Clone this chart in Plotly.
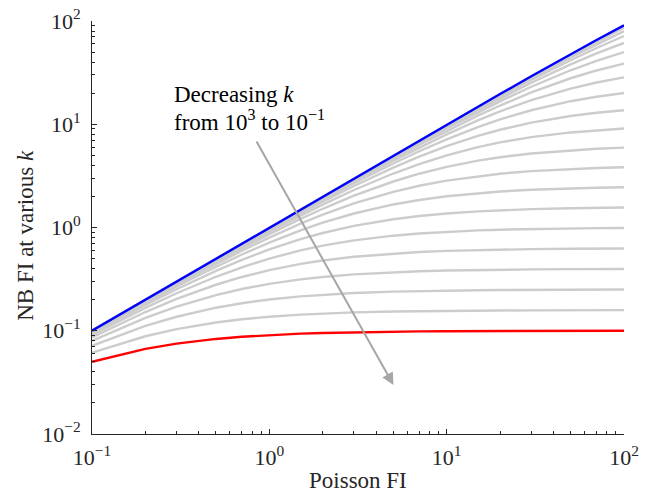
import plotly.graph_objects as go

# ---- data ----
poisson_fi = [0.1, 0.2, 0.3, 0.4, 0.5, 0.7, 1, 1.5, 2, 3, 5, 7, 10, 15, 20, 30, 50, 70, 100]

k_values = [1000, 631, 398, 251, 158, 100, 63.1, 39.8, 25.1, 15.8, 10,
            6.31, 3.98, 2.51, 1.58, 1, 0.631, 0.398, 0.251, 0.158, 0.1]

# k = 10^3 (blue)
nb_fi_k_max = [0.09999, 0.19996, 0.2999, 0.3998, 0.4998, 0.6995, 0.999, 1.4978, 1.996, 2.991,
               4.975, 6.951, 9.901, 14.778, 19.608, 29.126, 47.619, 65.42, 90.909]

# k = 10^-1 (red)
nb_fi_k_min = [0.05, 0.06667, 0.075, 0.08, 0.08333, 0.0875, 0.09091, 0.09375, 0.09524, 0.09677,
               0.09804, 0.09859, 0.09901, 0.09934, 0.0995, 0.09967, 0.0998, 0.09986, 0.0999]

# intermediate k (grey), from 10^2.8 down to 10^-0.8
nb_fi_intermediate = [
    [0.09998, 0.19994, 0.29986, 0.39975, 0.4996, 0.69922, 0.99842, 1.4964, 1.9937, 2.9858,
     4.9607, 6.9232, 9.844, 14.652, 19.386, 28.638, 46.33, 63.01, 86.32],
    [0.09997, 0.1999, 0.29977, 0.3996, 0.49937, 0.69877, 0.99749, 1.4944, 1.99, 2.9776,
     4.938, 6.879, 9.755, 14.455, 19.043, 27.898, 44.42, 59.53, 79.92],
    [0.09996, 0.19984, 0.29964, 0.39936, 0.49901, 0.69806, 0.99603, 1.4911, 1.9842, 2.9646,
     4.9024, 6.8102, 9.6171, 14.155, 18.525, 26.8, 41.70, 54.74, 71.53],
    [0.09994, 0.19975, 0.29943, 0.39899, 0.49843, 0.69692, 0.99373, 1.4859, 1.9751, 2.9443,
     4.847, 6.704, 9.4064, 13.703, 17.759, 25.225, 38.008, 48.554, 61.312],
    [0.0999, 0.1996, 0.2991, 0.3984, 0.4975, 0.6951, 0.9901, 1.4778, 1.9608, 2.9126,
     4.7619, 6.542, 9.0909, 13.043, 16.667, 23.077, 33.333, 41.176, 50.0],
    [0.09984, 0.19937, 0.29858, 0.39748, 0.49607, 0.69231, 0.9844, 1.4652, 1.9386, 2.8638,
     4.6328, 6.3009, 8.632, 12.119, 15.186, 20.332, 27.894, 33.183, 38.685],
    [0.09975, 0.199, 0.29776, 0.39602, 0.4938, 0.6879, 0.9755, 1.4455, 1.9043, 2.7898,
     4.4421, 5.9532, 7.9923, 10.895, 13.312, 17.108, 22.163, 25.377, 28.474],
    [0.0996, 0.19842, 0.29646, 0.39373, 0.49024, 0.68102, 0.96171, 1.4155, 1.8525, 2.6799,
     4.17, 5.4744, 7.1526, 9.3917, 11.135, 13.672, 16.72, 18.486, 20.076],
    [0.09937, 0.19751, 0.29443, 0.39015, 0.48471, 0.67039, 0.94064, 1.3703, 1.7759, 2.5225,
     3.8008, 4.8554, 6.1312, 7.7062, 8.8417, 10.37, 12.034, 12.922, 13.68],
    [0.09901, 0.19608, 0.29126, 0.38462, 0.47619, 0.65421, 0.90909, 1.3043, 1.6667, 2.3077,
     3.3333, 4.1176, 5.0, 6.0, 6.6667, 7.5, 8.3333, 8.75, 9.0909],
    [0.09844, 0.19386, 0.28638, 0.37615, 0.46328, 0.63009, 0.8632, 1.2119, 1.5186, 2.0332,
     2.7894, 3.3183, 3.8685, 4.4412, 4.7962, 5.2129, 5.6022, 5.7874, 5.9347],
    [0.09755, 0.19043, 0.27898, 0.36348, 0.44421, 0.59532, 0.79923, 1.0895, 1.3312, 1.7108,
     2.2163, 2.5377, 2.8474, 3.146, 3.3201, 3.5145, 3.6873, 3.7667, 3.8285],
    [0.09617, 0.18525, 0.26799, 0.34505, 0.417, 0.54744, 0.71526, 0.93917, 1.1135, 1.3672,
     1.672, 1.8486, 2.0076, 2.1516, 2.2316, 2.3179, 2.3918, 2.4249, 2.4504],
    [0.09406, 0.17759, 0.25225, 0.31939, 0.38008, 0.48554, 0.61312, 0.77062, 0.88417, 1.037,
     1.2034, 1.2922, 1.368, 1.4333, 1.4684, 1.5053, 1.5361, 1.5497, 1.5601],
    [0.09091, 0.16667, 0.23077, 0.28571, 0.33333, 0.41176, 0.5, 0.6, 0.66667, 0.75,
     0.83333, 0.875, 0.90909, 0.9375, 0.95238, 0.96774, 0.98039, 0.98592, 0.9901],
    [0.08632, 0.15186, 0.20332, 0.2448, 0.27894, 0.33183, 0.38685, 0.44412, 0.47962, 0.52129,
     0.56022, 0.57875, 0.59347, 0.60545, 0.61162, 0.61792, 0.62305, 0.62528, 0.62696],
    [0.07992, 0.13312, 0.17108, 0.19952, 0.22163, 0.25377, 0.28474, 0.3146, 0.33201, 0.35145,
     0.36873, 0.37667, 0.38285, 0.3878, 0.39032, 0.39288, 0.39494, 0.39584, 0.39651],
    [0.07153, 0.11135, 0.13672, 0.1543, 0.1672, 0.18486, 0.20076, 0.21516, 0.22316, 0.23179,
     0.23918, 0.24249, 0.24504, 0.24706, 0.24808, 0.24911, 0.24994, 0.25029, 0.25056],
    [0.06131, 0.08842, 0.1037, 0.11351, 0.12034, 0.12922, 0.1368, 0.14333, 0.14684, 0.15053,
     0.15361, 0.15497, 0.15601, 0.15682, 0.15723, 0.15765, 0.15798, 0.15812, 0.15823],
]

x_tick_vals = [0.1, 1, 10, 100]
x_tick_text = ["10<sup>\u22121</sup>", "10<sup>0</sup>", "10<sup>1</sup>", "10<sup>2</sup>"]
y_tick_vals = [0.01, 0.1, 1, 10, 100]
y_tick_text = ["10<sup>\u22122</sup>", "10<sup>\u22121</sup>", "10<sup>0</sup>",
               "10<sup>1</sup>", "10<sup>2</sup>"]

x_title = "Poisson FI"
y_title = "NB FI at various <i>k</i>"
note_line1 = "Decreasing <i>k</i>"
note_line2 = "from 10<sup>3</sup> to 10<sup>\u22121</sup>"

# ---- figure ----
FONT = "Liberation Serif"
AXIS_COLOR = "#262626"
TICK_SIZE = 22
TEXT_SIZE = 23

fig = go.Figure()

for row in nb_fi_intermediate:
    fig.add_trace(go.Scatter(x=poisson_fi, y=row, mode="lines",
                             line=dict(color="#cccccc", width=2.4),
                             showlegend=False, hoverinfo="skip"))

fig.add_trace(go.Scatter(x=poisson_fi, y=nb_fi_k_max, mode="lines",
                         line=dict(color="#0000ff", width=2.4), showlegend=False))
fig.add_trace(go.Scatter(x=poisson_fi, y=nb_fi_k_min, mode="lines",
                         line=dict(color="#ff0000", width=2.4), showlegend=False))


def minor_vals(e0, e1):
    return [m * 10.0 ** e for e in range(e0, e1) for m in range(2, 10)]


common_axis = dict(
    type="log", showline=True, linecolor=AXIS_COLOR, linewidth=1,
    ticks="inside", ticklen=5, tickwidth=1, tickcolor=AXIS_COLOR,
    showgrid=False, zeroline=False, mirror=False, automargin=False,
    tickfont=dict(family=FONT, size=TICK_SIZE, color=AXIS_COLOR),
)

fig.update_xaxes(
    **common_axis, range=[-1, 2], tickmode="array",
    tickvals=x_tick_vals, ticktext=x_tick_text, ticklabelstandoff=4,
    minor=dict(tickmode="array", tickvals=minor_vals(-1, 2), ticks="inside",
               ticklen=3, tickcolor=AXIS_COLOR, showgrid=False),
)
fig.update_yaxes(
    **common_axis, range=[-2, 2], tickmode="array",
    tickvals=y_tick_vals, ticktext=y_tick_text, ticklabelstandoff=6,
    minor=dict(tickmode="array", tickvals=minor_vals(-2, 2), ticks="inside",
               ticklen=3, tickcolor=AXIS_COLOR, showgrid=False),
)

# axis titles
fig.add_annotation(x=0.5, y=0, xref="paper", yref="paper", text=x_title,
                   showarrow=False, xanchor="center", yanchor="middle", yshift=-46,
                   font=dict(family=FONT, size=TEXT_SIZE, color=AXIS_COLOR))
fig.add_annotation(x=0, y=0.48, xref="paper", yref="paper", text=y_title,
                   showarrow=False, xanchor="center", yanchor="middle", xshift=-66,
                   textangle=-90,
                   font=dict(family=FONT, size=TEXT_SIZE, color=AXIS_COLOR))

# arrow and text (positions in log10 axis units)
fig.add_annotation(x=0.70, y=-1.525, ax=-0.077, ay=0.847, xref="x", yref="y",
                   axref="x", ayref="y", text="", showarrow=True,
                   arrowhead=2, arrowsize=1.2, arrowwidth=2, arrowcolor="#a6a6a6")
fig.add_annotation(x=-0.55, y=1.29, xref="x", yref="y", showarrow=False,
                   xanchor="left", yanchor="middle", align="left", text=note_line1,
                   font=dict(family=FONT, size=TEXT_SIZE, color="#000000"))
fig.add_annotation(x=-0.55, y=1.041, xref="x", yref="y", showarrow=False,
                   xanchor="left", yanchor="middle", align="left", text=note_line2,
                   font=dict(family=FONT, size=TEXT_SIZE, color="#000000"))

fig.update_layout(
    width=646, height=492,
    margin=dict(l=92, r=22, t=21, b=58, pad=0),
    plot_bgcolor="white", paper_bgcolor="white",
    showlegend=False,
)

fig.write_html("out.html",
               config={"displayModeBar": False},
               post_script="document.body.style.margin='0px';"
                           "document.body.style.overflow='hidden';")
